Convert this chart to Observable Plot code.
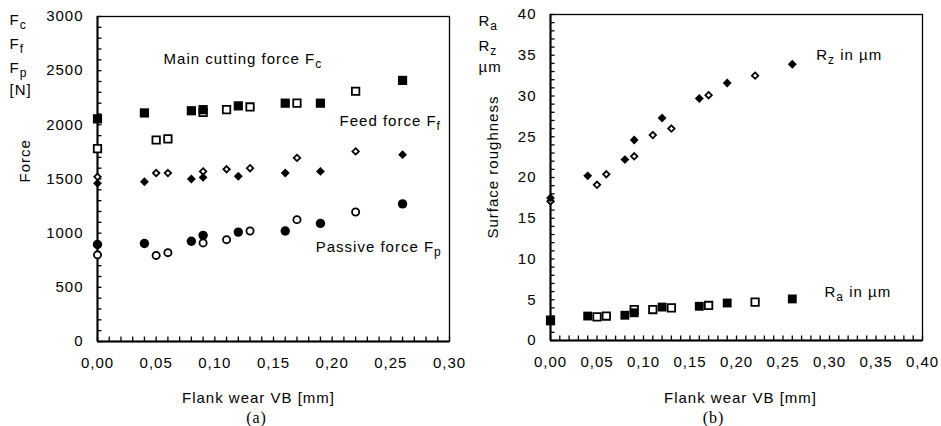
<!DOCTYPE html>
<html>
<head>
<meta charset="utf-8">
<script src="https://cdn.jsdelivr.net/npm/d3@7"></script>
<script src="https://cdn.jsdelivr.net/npm/@observablehq/plot@0.6"></script>
<style>
  body { margin: 0; background: #fff; }
  #wrap { display: flex; width: 941px; height: 426px; overflow: hidden; }
</style>
</head>
<body>
<div id="wrap"></div>
<script>
// ---------- Data: chart (a) forces ----------
const vbFilled = [0, 0.04, 0.08, 0.09, 0.12, 0.16, 0.19, 0.26];
const vbOpen   = [0, 0.05, 0.06, 0.09, 0.11, 0.13, 0.17, 0.22];
const fcFilled = [2055, 2110, 2130, 2140, 2175, 2200, 2200, 2410];
const fcOpen   = [1780, 1860, 1870, 2115, 2140, 2165, 2200, 2310];
const ffFilled = [1460, 1475, 1500, 1515, 1525, 1555, 1570, 1725];
const ffOpen   = [1520, 1555, 1555, 1570, 1590, 1600, 1695, 1755];
const fpFilled = [895, 905, 925, 980, 1010, 1020, 1090, 1270];
const fpOpen   = [800, 795, 820, 910, 940, 1020, 1125, 1195];

// ---------- Data: chart (b) surface roughness ----------
const rzFilled = [17.5, 20.2, 22.2, 24.6, 27.3, 29.7, 31.6, 33.9];
const rzOpen   = [17.1, 19.1, 20.4, 22.6, 25.2, 26.0, 30.1, 32.5];
const raFilled = [2.4, 3.0, 3.1, 3.4, 4.1, 4.2, 4.6, 5.1];
const raOpen   = [2.5, 2.9, 3.0, 3.8, 3.8, 4.0, 4.3, 4.7];

// ---------- Tick labels ----------
const xTicksA = [0, 0.05, 0.10, 0.15, 0.20, 0.25, 0.30];
const yTicksA = [0, 500, 1000, 1500, 2000, 2500, 3000];
const xTicksB = [0, 0.05, 0.10, 0.15, 0.20, 0.25, 0.30, 0.35, 0.40];
const yTicksB = [0, 5, 10, 15, 20, 25, 30, 35, 40];

// ---------- Texts ----------
const labelsA = [
  {x: 0.0563, y: 2557, text: "Main cutting force F_{c}"},
  {x: 0.2063, y: 1985, text: "Feed force F_{f}"},
  {x: 0.186,  y: 824,  text: "Passive force F_{p}"}
];
const labelsB = [
  {x: 0.2857, y: 34.4, text: "R_{z} in µm"},
  {x: 0.2946, y: 5.3,  text: "R_{a} in µm"}
];
const unitsA = ["F_{c}", "F_{f}", "F_{p}", "[N]"];
const unitsB = ["R_{a}", "R_{z}", "µm"];
const xTitle = "Flank wear VB [mm]";
const yTitleA = "Force";
const yTitleB = "Surface roughness";
const tagA = "(a)";
const tagB = "(b)";

const rows = (xs, ys) => xs.map((x, i) => ({x, y: ys[i]}));
const fmtComma = d => d.toFixed(2).replace(".", ",");

function subscripts(svg) {
  d3.select(svg).selectAll("text").each(function () {
    const s = this.textContent;
    if (!s.includes("_{")) return;
    const parts = s.split(/(_\{[^}]*\})/).filter(p => p);
    this.textContent = "";
    let shifted = false;
    for (const p of parts) {
      const ts = document.createElementNS("http://www.w3.org/2000/svg", "tspan");
      if (p.startsWith("_{")) {
        ts.textContent = p.slice(2, -1);
        ts.setAttribute("dy", "4");
        ts.setAttribute("font-size", "12");
        shifted = true;
      } else {
        ts.textContent = p;
        if (shifted) { ts.setAttribute("dy", "-4"); shifted = false; }
      }
      this.appendChild(ts);
    }
  });
}

function makeChart(cfg) {
  const {width, ml, mr, mt, mb, xDomain, yDomain, xTicks, yTicks, xMinor, yMinor,
         series, labels, units, unitX, unitBaselines, yTitle, yTitleX, yTitleY,
         titleX, tag, tagX} = cfg;
  const height = 426;
  const frameBottom = height - mb;
  const plotW = width - ml - mr;
  const plotH = frameBottom - mt;
  const frameCx = ml + plotW / 2;
  const frameCy = mt + plotH / 2;
  const tickLen = 4.5;
  const marks = [];
  marks.push(Plot.frame({stroke: "black", strokeWidth: 1.3}));
  // axis lines
  marks.push(Plot.ruleX([xDomain[0]], {stroke: "black", strokeWidth: 2}));
  marks.push(Plot.ruleY([yDomain[0]], {stroke: "black", strokeWidth: 2}));
  // minor inward ticks
  marks.push(Plot.tickY(yMinor, {y: d => d, insetRight: plotW - tickLen, stroke: "black", strokeWidth: 1.3}));
  marks.push(Plot.tickX(xMinor, {x: d => d, insetTop: plotH - tickLen, stroke: "black", strokeWidth: 1.3}));
  // tick labels
  marks.push(Plot.axisY({ticks: yTicks, tickSize: 0, tickPadding: 14, fontSize: 15, tickFormat: d => String(d)}));
  marks.push(Plot.axisX({ticks: xTicks, tickSize: 0, tickPadding: 15.5, fontSize: 15, tickFormat: fmtComma}));
  // data: open first, filled on top
  for (const s of series.filter(s => !s.filled)) {
    marks.push(Plot.dot(rows(s.x, s.y), {x: "x", y: "y", symbol: s.symbol, r: s.r,
      fill: "white", stroke: "black", strokeWidth: 1.8}));
  }
  for (const s of series.filter(s => s.filled)) {
    marks.push(Plot.dot(rows(s.x, s.y), {x: "x", y: "y", symbol: s.symbol, r: s.r,
      fill: "black", stroke: "none"}));
  }
  // in-plot labels
  marks.push(Plot.text(labels, {x: "x", y: "y", text: "text", textAnchor: "start",
    lineAnchor: "bottom", fontSize: 15, fill: "black"}));
  // unit labels at top-left
  units.forEach((u, i) => {
    marks.push(Plot.text([u], {frameAnchor: "top-left", text: d => d, textAnchor: "start",
      lineAnchor: "bottom", dx: unitX - ml, dy: unitBaselines[i] - mt, fontSize: 15, fill: "black"}));
  });
  // y title
  marks.push(Plot.text([yTitle], {frameAnchor: "left", text: d => d, rotate: -90,
    dx: yTitleX - ml, dy: yTitleY - frameCy, fontSize: 15, fill: "black"}));
  // x title
  marks.push(Plot.text([xTitle], {frameAnchor: "bottom", text: d => d, lineAnchor: "bottom",
    dx: titleX - frameCx, dy: 402 - frameBottom, fontSize: 15, fill: "black"}));
  // panel tag
  marks.push(Plot.text([tag], {frameAnchor: "bottom", text: d => d, lineAnchor: "bottom",
    dx: tagX - frameCx, dy: 422 - frameBottom, fontSize: 16, fill: "black",
    fontFamily: "'Liberation Serif', 'Times New Roman', serif"}));

  const svg = Plot.plot({
    width, height,
    marginLeft: ml, marginRight: mr, marginTop: mt, marginBottom: mb,
    x: {domain: xDomain, label: null},
    y: {domain: yDomain, label: null},
    style: {fontFamily: "'Liberation Sans', Arial, sans-serif", fontSize: "15px",
            color: "black", background: "white", letterSpacing: "1px"},
    marks
  });
  subscripts(svg);
  svg.style.maxWidth = "none";
  return svg;
}

const chartA = makeChart({
  width: 470, ml: 97, mr: 21, mt: 16, mb: 85,
  xDomain: [0, 0.30], yDomain: [0, 3000],
  xTicks: xTicksA, yTicks: yTicksA,
  xMinor: d3.range(0, 0.3001, 0.01), yMinor: d3.range(0, 3001, 100),
  series: [
    {x: vbOpen, y: fcOpen, symbol: "square", r: 4.2, filled: false},
    {x: vbOpen, y: ffOpen, symbol: "diamond2", r: 2.9, filled: false},
    {x: vbOpen, y: fpOpen, symbol: "circle", r: 3.6, filled: false},
    {x: vbFilled, y: fcFilled, symbol: "square", r: 5.2, filled: true},
    {x: vbFilled, y: ffFilled, symbol: "diamond2", r: 4.0, filled: true},
    {x: vbFilled, y: fpFilled, symbol: "circle", r: 4.7, filled: true}
  ],
  labels: labelsA,
  units: unitsA, unitX: 9, unitBaselines: [24, 48, 72, 94],
  yTitle: yTitleA, yTitleX: 25, yTitleY: 182,
  titleX: 258, tag: tagA, tagX: 256
});

const chartB = makeChart({
  width: 471, ml: 80, mr: 19, mt: 14, mb: 86,
  xDomain: [0, 0.40], yDomain: [0, 40],
  xTicks: xTicksB, yTicks: yTicksB,
  xMinor: d3.range(0, 0.4001, 0.01), yMinor: d3.range(0, 40.001, 1),
  series: [
    {x: vbOpen, y: raOpen, symbol: "square", r: 4.2, filled: false},
    {x: vbOpen, y: rzOpen, symbol: "diamond2", r: 2.9, filled: false},
    {x: vbFilled, y: raFilled, symbol: "square", r: 5.0, filled: true},
    {x: vbFilled, y: rzFilled, symbol: "diamond2", r: 4.0, filled: true}
  ],
  labels: labelsB,
  units: unitsB, unitX: 8, unitBaselines: [25, 50, 71],
  yTitle: yTitleB, yTitleX: 23, yTitleY: 238,
  titleX: 270, tag: tagB, tagX: 243
});

document.getElementById("wrap").append(chartA, chartB);
</script>
</body>
</html>
